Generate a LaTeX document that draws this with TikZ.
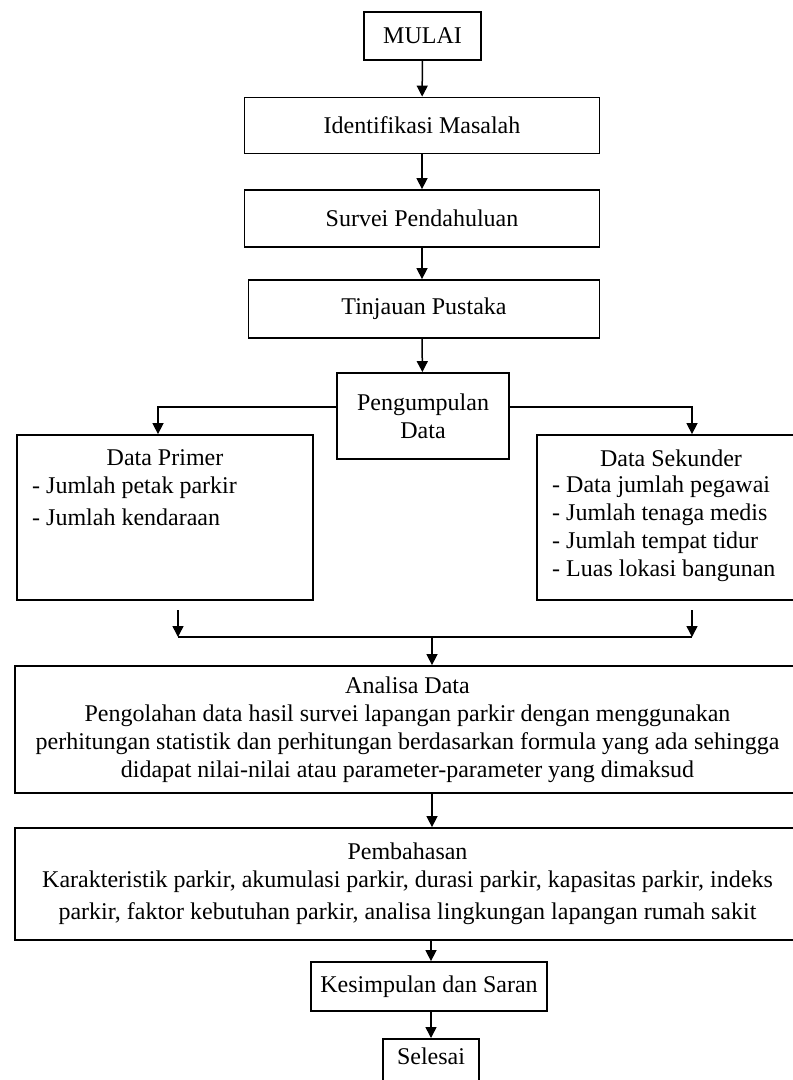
\documentclass[tikz,border=0pt]{standalone}
\usepackage{fontspec}
\setmainfont{Liberation Serif}
\usetikzlibrary{arrows.meta}

\tikzset{
  box/.style={draw, line width=1.8pt, fill=white, inner sep=4pt,
    font=\fontsize{24}{28}\selectfont},
  txt/.style={inner sep=0pt, font=\fontsize{24}{28}\selectfont},
  arr/.style={line width=1.5pt, -{Triangle[length=11pt, width=11pt]}},
  ln/.style={line width=1.5pt}
}

\begin{document}
\begin{tikzpicture}[x=1pt, y=-1pt]
      \useasboundingbox[fill=white] (0,0) rectangle (793,1080);

      % main chain
      \node[box, minimum width=117pt, minimum height=48pt] (mulai) at (422.5,36) {MULAI};
      \node[box, minimum width=355pt, minimum height=56pt] (ident) at (422,125.5) {Identifikasi Masalah};
      \node[box, minimum width=355pt, minimum height=57pt] (survei) at (422,218.5) {Survei Pendahuluan};
      \node[box, minimum width=351pt, minimum height=58pt] (tinjau) at (424,309) {Tinjauan Pustaka};
      \node[box, minimum width=172pt, minimum height=86pt, align=center] (kumpul) at (423,416) {Pengumpulan\\Data};

      % data boxes
      \node[box, minimum width=296pt, minimum height=165pt] (primer) at (165,517.5) {};
      \node[txt] (primerT) at (165,458) {Data Primer};
      \node[txt, anchor=north west, align=left] (primerL) at (32,477) {- Jumlah petak parkir\\[4pt]- Jumlah kendaraan};

      \node[box, minimum width=258pt, minimum height=165pt] (sekunder) at (666,517.5) {};
      \node[txt] (sekunderT) at (671,458) {Data Sekunder};
      \node[txt, anchor=north west, align=left] (sekunderL) at (552,476) {- Data jumlah pegawai\\- Jumlah tenaga medis\\- Jumlah tempat tidur\\- Luas lokasi bangunan};

      \node[box, minimum width=785pt, minimum height=127pt, align=center] (analisa) at (407.5,729.5) {Analisa Data\\
        Pengolahan data hasil survei lapangan parkir dengan menggunakan\\
        perhitungan statistik dan perhitungan berdasarkan formula yang ada sehingga\\
        didapat nilai-nilai atau parameter-parameter yang dimaksud};
      \node[box, minimum width=785pt, minimum height=112pt, align=center] (bahas) at (407.5,884) {Pembahasan\\
        Karakteristik parkir, akumulasi parkir, durasi parkir, kapasitas parkir, indeks\\[4pt]
        parkir, faktor kebutuhan parkir, analisa lingkungan lapangan rumah sakit};
      \node[box, minimum width=236pt, minimum height=49pt] (simpul) at (429,986.5) {Kesimpulan dan Saran};
      \node[box, minimum width=96pt, text height=22pt, text depth=30pt, anchor=north] (selesai) at (431,1038) {Selesai};

      % junctions
      \coordinate (lTop) at (158,407);
      \coordinate (rTop) at (692,407);
      \coordinate (lOut) at (178,610);
      \coordinate (rOut) at (692,610);
      \coordinate (lJoin) at (178,637);
      \coordinate (rJoin) at (692,637);
      \coordinate (mJoin) at (432,637);

      % connectors
      \draw[arr] (mulai) -- (ident);
      \draw[arr] (ident) -- (survei);
      \draw[arr] (survei) -- (tinjau.north -| survei);
      \draw[arr] (tinjau.south -| survei) -- (kumpul);
      \draw[arr] (kumpul.west |- lTop) -- (lTop) -- (lTop |- primer.north);
      \draw[arr] (kumpul.east |- rTop) -- (rTop) -- (rTop |- sekunder.north);
      \draw[arr] (lOut) -- (lJoin);
      \draw[arr] (rOut) -- (rJoin);
      \draw[ln] (lJoin) -- (rJoin);
      \draw[arr] (mJoin) -- (mJoin |- analisa.north);
      \draw[arr] (mJoin |- analisa.south) -- (mJoin |- bahas.north);
      \draw[arr] (431,0 |- bahas.south) -- (simpul.north -| 431,0);
      \draw[arr] (simpul.south -| selesai) -- (selesai);
\end{tikzpicture}
\end{document}
